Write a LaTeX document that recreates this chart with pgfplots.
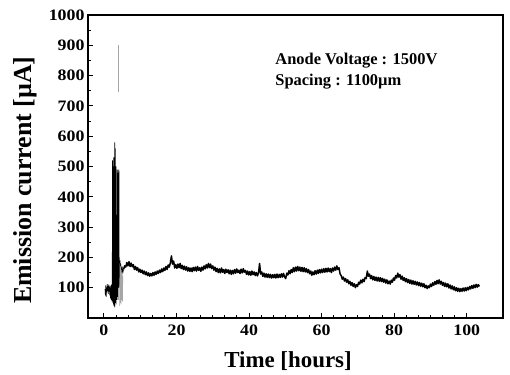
\documentclass[border=0pt]{standalone}
\usepackage{fontspec}
\setmainfont{Liberation Serif}
\newfontfamily\tickfont{Liberation Serif}[FakeStretch=1.12]
\usepackage{pgfplots}
\pgfplotsset{compat=1.18}
\begin{document}
\begin{tikzpicture}
\begin{axis}[name=ax, scale only axis, width=415bp, height=303bp,
  xmin=-4.4, xmax=110, ymin=0, ymax=1000,
  xtick={0,20,...,100}, ytick={100,200,...,1000},
  minor x tick num=5, minor y tick num=1,
  tick pos=left, tick align=inside,
  major tick length=5bp, minor tick length=3bp,
  every tick/.style={black, line width=1pt},
  axis line style={line width=1.3pt},
  /pgf/number format/assume math mode=true,
  /pgf/number format/1000 sep={},
  ticklabel style={font=\tickfont\fontsize{16}{16}\selectfont\bfseries},
  xticklabel style={yshift=-3bp},
  xlabel={Time [hours]}, ylabel={Emission current [µA]},
  xlabel style={font=\fontsize{23}{23}\selectfont\bfseries, at={(axis description cs:0.482,-0.165)}, anchor=base},
  ylabel style={font=\fontsize{26}{26}\selectfont\bfseries, at={(axis description cs:-0.135,0.455)}, anchor=base},
]
% pre-spike and spike region
\addplot[black, line width=0.7pt] coordinates {
(0.3,95) (0.4,75) (0.5,108) (0.6,70) (0.7,100) (0.8,85) (0.9,112) (1.0,90) (1.1,105) (1.2,80)
(1.3,110) (1.4,88) (1.5,102) (1.6,75) (1.7,108) (1.8,65) (1.9,100) (2.0,60) (2.1,110) (2.2,55) (2.3,120)
(2.35,520) (2.4,60) (2.45,500) (2.5,50) (2.55,450) (2.6,45) (2.7,530) (2.75,40) (2.8,350) (2.85,55)
(2.9,340) (2.95,35) (3.0,580) (3.05,60) (3.1,560) (3.15,50) (3.2,340) (3.25,70) (3.3,500) (3.35,45)
(3.4,340) (3.5,60) (3.55,330) (3.6,80) (3.65,490) (3.7,70) (3.75,340) (3.8,90) (3.85,480) (3.9,60)
(3.95,335) (4.0,100) (4.05,490) (4.1,120) (4.15,485) (4.2,100) (4.25,200) (4.3,110) (4.4,190)
(4.5,130) (4.6,180) (4.8,140) (5.0,170) (5.2,150) (5.4,160)
};
\addplot[gray!70, line width=0.6pt] coordinates {
(4.3,40) (4.4,180) (4.5,50) (4.6,170) (4.7,45) (4.8,160) (4.9,60) (5.0,150) (5.1,55) (5.2,140)
};
\addplot[gray!70, line width=0.7pt] coordinates {(4.1,745) (4.1,900)};
% main trace
\addplot[black, line width=1.5pt, line join=round] coordinates {
(5.4,160) (5.7,172) (6.0,168) (6.3,183) (6.6,172) (6.9,186) (7.2,170) (7.5,181) (7.8,169) (8.1,176) (8.4,160)
(8.7,170) (9.0,158) (9.3,166) (9.6,152) (9.9,161) (10.2,150) (10.5,158) (10.8,146) (11.1,155) (11.4,143)
(11.7,152) (12.0,140) (12.3,149) (12.6,138) (12.9,147) (13.2,139) (13.5,150) (13.8,141) (14.1,152) (14.4,144)
(14.7,155) (15.0,147) (15.3,158) (15.6,150) (15.9,162) (16.2,153) (16.5,165) (16.8,157) (17.1,170) (17.4,160)
(17.7,175) (18.0,168) (18.3,182) (18.6,205) (18.9,178) (19.2,188) (19.5,165) (19.8,176) (20.1,164) (20.4,178)
(20.7,166) (21.0,180) (21.3,163) (21.6,174) (21.9,160) (22.2,171) (22.5,158) (22.8,169) (23.1,155) (23.4,166)
(23.7,154) (24.0,165) (24.3,153) (24.6,167) (24.9,156) (25.2,168) (25.5,155) (25.8,170) (26.1,157) (26.4,166)
(26.7,154) (27.0,168) (27.3,158) (27.6,172) (27.9,162) (28.2,176) (28.5,165) (28.8,180) (29.1,166) (29.4,178)
(29.7,163) (30.0,172) (30.3,158) (30.6,168) (30.9,153) (31.2,164) (31.5,150) (31.8,162) (32.1,149) (32.4,165)
(32.7,151) (33.0,160) (33.3,147) (33.6,161) (33.9,150) (34.2,159) (34.5,146) (34.8,158) (35.1,144) (35.4,157)
(35.7,146) (36.0,160) (36.3,148) (36.6,162) (36.9,150) (37.2,158) (37.5,147) (37.8,161) (38.1,149) (38.4,163)
(38.7,151) (39.0,157) (39.3,144) (39.6,155) (39.9,142) (40.2,153) (40.5,141) (40.8,155) (41.1,143) (41.4,152)
(41.7,140) (42.0,150) (42.3,139) (42.6,149) (42.9,180) (43.2,145) (43.5,152) (43.8,137) (44.1,148) (44.4,135)
(44.7,146) (45.0,134) (45.3,145) (45.6,133) (45.9,144) (46.2,132) (46.5,143) (46.8,133) (47.1,144) (47.4,132)
(47.7,145) (48.0,133) (48.3,144) (48.6,134) (48.9,146) (49.2,135) (49.5,147) (49.8,136) (50.1,130) (50.4,148)
(50.7,142) (51.0,156) (51.3,146) (51.6,160) (51.9,150) (52.2,166) (52.5,153) (52.8,168) (53.1,155) (53.4,170)
(53.7,156) (54.0,168) (54.3,154) (54.6,167) (54.9,153) (55.2,166) (55.5,152) (55.8,163) (56.1,150) (56.4,160)
(56.7,146) (57.0,155) (57.3,141) (57.6,152) (57.9,143) (58.2,156) (58.5,145) (58.8,158) (59.1,147) (59.4,160)
(59.7,149) (60.0,161) (60.3,150) (60.6,163) (60.9,151) (61.2,164) (61.5,152) (61.8,165) (62.1,153) (62.4,163)
(62.7,150) (63.0,165) (63.3,155) (63.6,168) (63.9,158) (64.2,172) (64.5,160) (64.8,166) (65.1,145) (65.4,140)
(65.7,128) (66.0,135) (66.3,122) (66.6,130) (66.9,118) (67.2,126) (67.5,113) (67.8,121) (68.1,108) (68.4,117)
(68.7,104) (69.0,113) (69.3,100) (69.6,110) (69.9,104) (70.2,118) (70.5,112) (70.8,125) (71.1,116) (71.4,128)
(71.7,120) (72.0,134) (72.3,130) (72.6,155) (72.9,138) (73.2,145) (73.5,130) (73.8,140) (74.1,126) (74.4,137)
(74.7,124) (75.0,135) (75.3,122) (75.6,134) (75.9,121) (76.2,133) (76.5,120) (76.8,131) (77.1,118) (77.4,128)
(77.7,115) (78.0,126) (78.3,113) (78.6,122) (78.9,112) (79.2,125) (79.5,118) (79.8,132) (80.1,125) (80.4,140)
(80.7,132) (81.0,148) (81.3,135) (81.6,143) (81.9,128) (82.2,138) (82.5,124) (82.8,133) (83.1,120) (83.4,130)
(83.7,117) (84.0,127) (84.3,114) (84.6,125) (84.9,112) (85.2,123) (85.5,111) (85.8,121) (86.1,109) (86.4,119)
(86.7,107) (87.0,117) (87.3,105) (87.6,115) (87.9,103) (88.2,113) (88.5,100) (88.8,108) (89.1,97) (89.4,106)
(89.7,100) (90.0,112) (90.3,104) (90.6,116) (90.9,108) (91.2,120) (91.5,111) (91.8,124) (92.1,113) (92.4,126)
(92.7,112) (93.0,121) (93.3,108) (93.6,117) (93.9,104) (94.2,115) (94.5,103) (94.8,113) (95.1,99) (95.4,109)
(95.7,96) (96.0,106) (96.3,93) (96.6,103) (96.9,90) (97.2,100) (97.5,88) (97.8,98) (98.1,87) (98.4,97)
(98.7,88) (99.0,99) (99.3,89) (99.6,100) (99.9,90) (100.2,101) (100.5,93) (100.8,104) (101.1,96) (101.4,107)
(101.7,98) (102.0,109) (102.3,100) (102.6,111) (102.9,102) (103.2,110) (103.5,104)
};
\node[anchor=base west, font=\fontsize{16.5}{16.5}\selectfont\bfseries] at (axis cs:46.3,835) {Anode Voltage : 1500V};
\node[anchor=base west, font=\fontsize{16.5}{16.5}\selectfont\bfseries] at (axis cs:46.3,766) {Spacing : 1100µm};
\end{axis}
\pgfresetboundingbox
\path ([shift={(-88bp,-57bp)}]ax.south west) rectangle ([shift={(7bp,15bp)}]ax.north east);
\end{tikzpicture}
\end{document}
